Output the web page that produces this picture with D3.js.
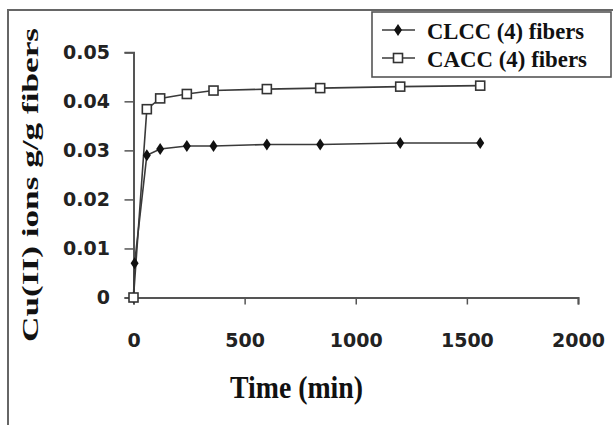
<!DOCTYPE html>
<html><head><meta charset="utf-8">
<script src="https://cdn.jsdelivr.net/npm/d3@7"></script>
<style>
html,body{margin:0;padding:0;background:#fff;}
svg{display:block;}
</style>
</head><body>
<svg id="chart" width="613" height="425"></svg>
<script>
// ---- data ----
const clccTime  = [0, 5, 60, 120, 240, 360, 600, 840, 1200, 1560];
const clccValue = [0, 0.007, 0.029, 0.0303, 0.0309, 0.0309, 0.0312, 0.0312, 0.0315, 0.0315];
const caccTime  = [0, 60, 120, 240, 360, 600, 840, 1200, 1560];
const caccValue = [0, 0.0384, 0.0406, 0.0415, 0.0422, 0.0425, 0.0427, 0.0430, 0.0432];
const xTicks = [0, 500, 1000, 1500, 2000];
const yTicks = [0, 0.01, 0.02, 0.03, 0.04, 0.05];
const seriesNames = ["CLCC (4) fibers", "CACC (4) fibers"];
const xTitle = "Time (min)";
const yTitle = "Cu(II) ions g/g fibers";

const svg = d3.select("#chart");
const x = d3.scaleLinear().domain([0, 2000]).range([133.5, 578]);
const y = d3.scaleLinear().domain([0, 0.05]).range([297.5, 52.3]);
const axisColor = "#555";
const lineColor = "#3a3a3a";

// frame (cropped border)
svg.append("path").attr("d", "M8,425 L8,10 L613,10")
  .attr("fill", "none").attr("stroke", "#666").attr("stroke-width", 2);

// axes
const gx = svg.append("g").attr("transform", `translate(0,${y(0)})`)
  .call(d3.axisBottom(x).tickValues(xTicks).tickSize(7).tickSizeOuter(7).tickFormat(d3.format("d")));
gx.select(".domain").attr("stroke", axisColor).attr("stroke-width", 2);
gx.selectAll(".tick line").attr("stroke", axisColor).attr("stroke-width", 1.5);
gx.selectAll(".tick text").attr("y", 49.5).attr("dy", 0)
  .attr("font-family", "DejaVu Sans").attr("font-weight", "bold").attr("font-size", 19).attr("fill", "#222");

const gy = svg.append("g").attr("transform", `translate(${x(0)},0)`)
  .call(d3.axisLeft(y).tickValues(yTicks).tickSize(9).tickSizeOuter(9).tickPadding(14.5)
    .tickFormat(d => d === 0 ? "0" : d3.format(".2f")(d)));
gy.select(".domain").attr("stroke", axisColor).attr("stroke-width", 2);
gy.selectAll(".tick line").attr("stroke", axisColor).attr("stroke-width", 1.5);
gy.selectAll(".tick text")
  .attr("font-family", "DejaVu Sans").attr("font-weight", "bold").attr("font-size", 19).attr("fill", "#222");

// lines
const line = d3.line().x(d => x(d[0])).y(d => y(d[1]));
const clcc = d3.zip(clccTime, clccValue);
const cacc = d3.zip(caccTime, caccValue);
svg.append("path").datum(cacc).attr("d", line).attr("fill", "none")
  .attr("stroke", lineColor).attr("stroke-width", 1.6);
svg.append("path").datum(clcc).attr("d", line).attr("fill", "none")
  .attr("stroke", lineColor).attr("stroke-width", 1.6);

const diamond = "M0,-6 L4,0 L0,6 L-4,0 Z";
svg.selectAll(".dia").data(clcc).join("path").attr("class", "dia")
  .attr("d", diamond).attr("transform", d => `translate(${x(d[0])},${y(d[1])})`)
  .attr("fill", "#111");
svg.selectAll(".sq").data(cacc).join("rect").attr("class", "sq")
  .attr("x", d => x(d[0]) - 4.5).attr("y", d => y(d[1]) - 4.5)
  .attr("width", 9).attr("height", 9)
  .attr("fill", "#fff").attr("stroke", "#333").attr("stroke-width", 1.6);

// axis titles
svg.append("text").text(xTitle)
  .attr("x", 230).attr("y", 398)
  .attr("textLength", 133).attr("lengthAdjust", "spacingAndGlyphs")
  .attr("font-family", "Liberation Serif").attr("font-weight", "bold").attr("font-size", 31).attr("fill", "#111");
svg.append("text").text(yTitle)
  .attr("transform", "translate(38,342) rotate(-90)")
  .attr("x", 0).attr("y", 0)
  .attr("textLength", 314).attr("lengthAdjust", "spacingAndGlyphs")
  .attr("font-family", "Liberation Serif").attr("font-weight", "bold").attr("font-size", 23).attr("fill", "#111");

// legend
const lg = svg.append("g");
lg.append("rect").attr("x", 372).attr("y", 12).attr("width", 239).attr("height", 65)
  .attr("fill", "#fff").attr("stroke", "#555").attr("stroke-width", 1.6);
const rowsY = [30, 58];
const lens = [157, 160];
seriesNames.forEach((name, i) => {
  const cy = rowsY[i];
  lg.append("line").attr("x1", 382).attr("x2", 415).attr("y1", cy).attr("y2", cy)
    .attr("stroke", lineColor).attr("stroke-width", 1.6);
  if (i === 0) {
    lg.append("path").attr("d", diamond).attr("transform", `translate(398,${cy})`).attr("fill", "#111");
  } else {
    lg.append("rect").attr("x", 398 - 4.5).attr("y", cy - 4.5).attr("width", 9).attr("height", 9)
      .attr("fill", "#fff").attr("stroke", "#333").attr("stroke-width", 1.6);
  }
  lg.append("text").text(name).attr("x", 427).attr("y", cy + 8.5)
    .attr("textLength", lens[i]).attr("lengthAdjust", "spacingAndGlyphs")
    .attr("font-family", "Liberation Serif").attr("font-weight", "bold").attr("font-size", 24).attr("fill", "#111");
});
</script>
</body></html>
